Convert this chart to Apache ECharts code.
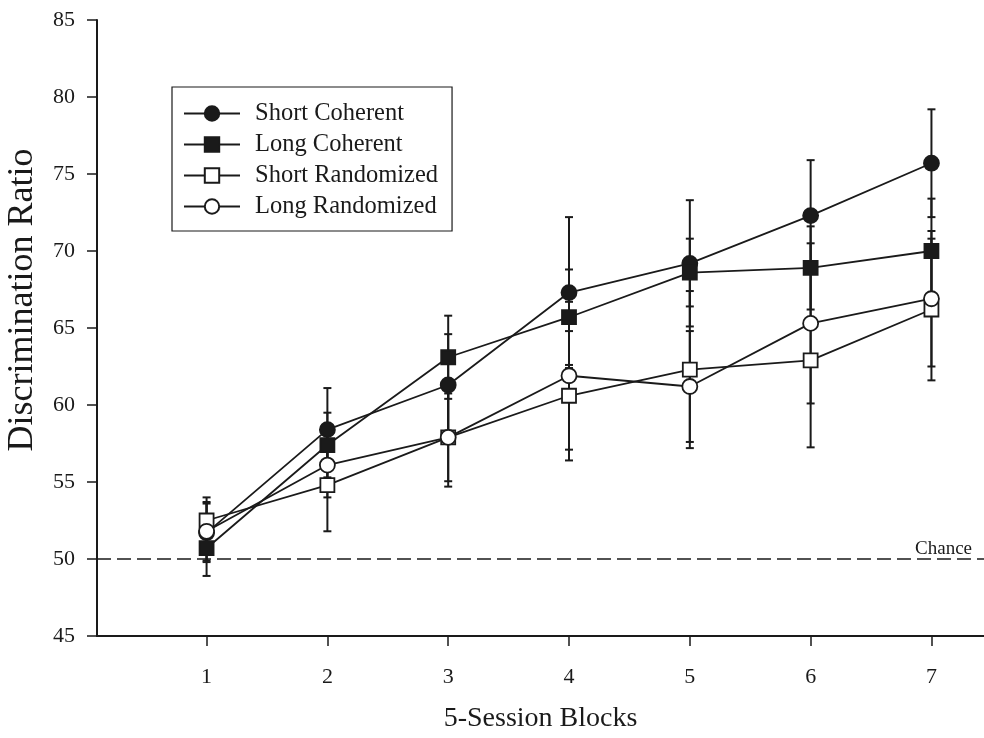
<!DOCTYPE html>
<html>
<head>
<meta charset="utf-8">
<script src="https://cdn.jsdelivr.net/npm/echarts@6/dist/echarts.min.js"></script>
<style>html,body{margin:0;padding:0;background:#fff;}#c{width:984px;height:738px;}</style>
</head>
<body>
<div id="c"></div>
<script>
const blocks = [1, 2, 3, 4, 5, 6, 7];
const yTicks = [45, 50, 55, 60, 65, 70, 75, 80, 85];
const seriesNames = ['Short Coherent', 'Long Coherent', 'Short Randomized', 'Long Randomized'];
const shortCoherent = [51.7, 58.4, 61.3, 67.3, 69.2, 72.3, 75.7];
const shortCoherentErr = [1.9, 2.7, 3.3, 4.9, 4.1, 3.6, 3.5];
const longCoherent = [50.7, 57.4, 63.1, 65.7, 68.6, 68.9, 70.0];
const longCoherentErr = [1.8, 2.1, 2.7, 3.1, 2.2, 2.7, 3.4];
const shortRandomized = [52.5, 54.8, 57.9, 60.6, 62.3, 62.9, 66.2];
const shortRandomizedErr = [1.5, 3.0, 3.2, 4.2, 5.1, 5.65, 4.6];
const longRandomized = [51.8, 56.1, 57.9, 61.9, 61.2, 65.3, 66.9];
const longRandomizedErr = [1.9, 2.1, 2.85, 4.8, 3.6, 5.2, 4.4];
const chanceLevel = 50;

const FONT = '"Liberation Serif", "Times New Roman", serif';
const INK = '#1a1a1a';

const values = [shortCoherent, longCoherent, shortRandomized, longRandomized];
const errs = [shortCoherentErr, longCoherentErr, shortRandomizedErr, longRandomizedErr];
const symbols = ['circle', 'rect', 'rect', 'circle'];
const fills = [INK, INK, '#ffffff', '#ffffff'];
const sizes = [15, 14, 14, 15];

function renderErr(params, api) {
  const x = api.value(0), lo = api.value(1), hi = api.value(2);
  const a = api.coord([x, lo]), b = api.coord([x, hi]);
  const w = 4;
  const st = { stroke: INK, lineWidth: 2 };
  return {
    type: 'group',
    children: [
      { type: 'line', shape: { x1: a[0], y1: a[1], x2: b[0], y2: b[1] }, style: st },
      { type: 'line', shape: { x1: a[0] - w, y1: a[1], x2: a[0] + w, y2: a[1] }, style: st },
      { type: 'line', shape: { x1: b[0] - w, y1: b[1], x2: b[0] + w, y2: b[1] }, style: st }
    ]
  };
}

const series = [];
values.forEach((vals, i) => {
  series.push({
    name: 'err' + i,
    type: 'custom',
    renderItem: renderErr,
    encode: { x: 0, y: [1, 2] },
    data: blocks.map((b, j) => [b, vals[j] - errs[i][j], vals[j] + errs[i][j]]),
    z: 1,
    silent: true
  });
});
values.forEach((vals, i) => {
  const s = {
    name: seriesNames[i],
    type: 'line',
    data: blocks.map((b, j) => [b, vals[j]]),
    symbol: symbols[i],
    symbolSize: sizes[i],
    showAllSymbol: true,
    lineStyle: { color: INK, width: 1.8 },
    itemStyle: { color: fills[i], borderColor: INK, borderWidth: 1.8 },
    z: 3 + i,
    animation: false
  };
  if (i === 0) {
    s.markLine = {
      silent: true,
      symbol: 'none',
      data: [{ yAxis: chanceLevel }],
      lineStyle: { type: [14, 6], color: INK, width: 1.6 },
      label: {
        show: true, position: 'insideEndTop', formatter: 'Chance',
        fontFamily: FONT, fontSize: 19, color: INK, distance: [12, 0]
      },
      animation: false
    };
  }
  series.push(s);
});

const chart = echarts.init(document.getElementById('c'), null, { renderer: 'canvas' });
chart.setOption({
  animation: false,
  backgroundColor: '#ffffff',
  grid: { left: 97, right: 0, top: 20, bottom: 95, containLabel: false },
  legend: {
    data: seriesNames,
    orient: 'vertical',
    left: 172,
    top: 87,
    padding: [14, 14, 12, 11],
    itemWidth: 56,
    itemHeight: 18,
    itemGap: 6,
    borderColor: INK,
    borderWidth: 1.2,
    textStyle: { fontFamily: FONT, fontSize: 24.5, color: INK, lineHeight: 24, padding: [0, 0, 0, 10] },
    inactiveColor: INK
  },
  xAxis: {
    type: 'value',
    min: 0.093,
    max: 7.435,
    name: '5-Session Blocks',
    nameLocation: 'middle',
    nameGap: 69,
    nameTextStyle: { fontFamily: FONT, fontSize: 28, color: INK },
    axisLine: { show: true, onZero: false, lineStyle: { color: INK, width: 2 } },
    axisTick: { show: true, inside: false, length: 10, customValues: blocks, lineStyle: { color: INK, width: 1.5 } },
    axisLabel: { customValues: blocks, fontFamily: FONT, fontSize: 22, color: INK, margin: 30 },
    splitLine: { show: false }
  },
  yAxis: {
    type: 'value',
    min: 45,
    max: 85,
    interval: 5,
    axisLine: { show: true, lineStyle: { color: INK, width: 2 } },
    axisTick: { show: true, inside: false, length: 10, lineStyle: { color: INK, width: 1.5 } },
    axisLabel: { fontFamily: FONT, fontSize: 22, color: INK, margin: 22 },
    splitLine: { show: false }
  },
  graphic: [{
    type: 'text',
    x: 23,
    y: 300,
    rotation: Math.PI / 2,
    style: {
      text: 'Discrimination Ratio',
      fontFamily: FONT,
      fontSize: 36,
      fill: INK,
      align: 'center',
      verticalAlign: 'middle'
    }
  }],
  series: series
});
</script>
</body>
</html>
